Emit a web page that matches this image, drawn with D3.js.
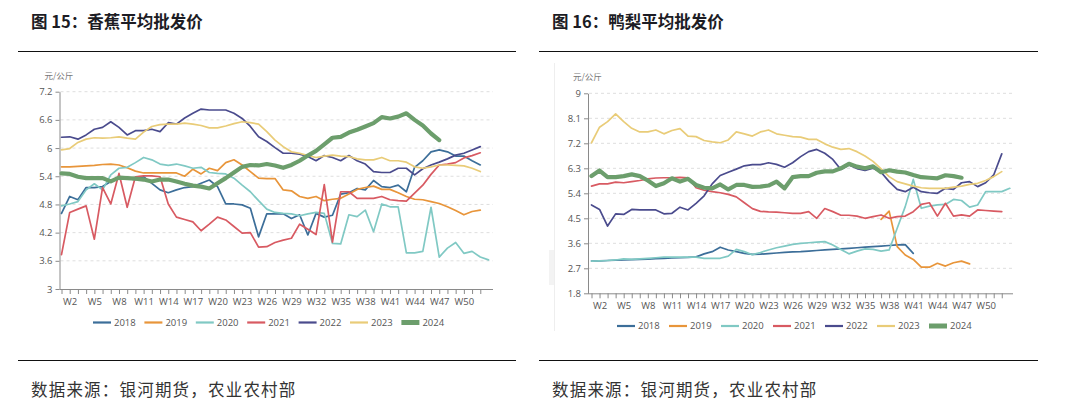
<!DOCTYPE html>
<html><head><meta charset="utf-8">
<script src="https://cdn.jsdelivr.net/npm/d3@7"></script>
<style>
body{margin:0;background:#fff;}
svg{display:block;}
</style></head>
<body>
<svg id="c" width="1074" height="406"></svg>
<script>
// ---------- data ----------
const weeks = d3.range(1, 54).map(w => "W" + w);
const xTickLabels = ["W2","W5","W8","W11","W14","W17","W20","W23","W26","W29","W32","W35","W38","W41","W44","W47","W50"];
const years = ["2018","2019","2020","2021","2022","2023","2024"];
const bananaYTicks = [3, 3.6, 4.2, 4.8, 5.4, 6, 6.6, 7.2];
const pearYTicks = [1.8, 2.7, 3.6, 4.5, 5.4, 6.3, 7.2, 8.1, 9];
const unitLabel = "元/公斤";

const banana2018 = [4.61,4.97,4.90,5.16,5.16,5.18,5.29,5.38,5.35,5.33,5.39,5.25,5.11,5.05,5.11,5.16,5.18,5.25,5.32,5.18,4.81,4.81,4.79,4.72,4.11,4.60,4.60,4.60,4.50,4.58,4.15,4.61,4.53,4.57,5.02,5.05,5.14,5.11,5.31,5.18,5.16,5.21,5.07,5.59,5.73,5.92,5.96,5.92,5.83,5.83,5.73,5.64];
const banana2019 = [5.60,5.60,5.61,5.62,5.63,5.65,5.66,5.64,5.58,5.51,5.47,5.47,5.47,5.47,5.47,5.40,5.55,5.45,5.57,5.52,5.69,5.75,5.64,5.50,5.36,5.35,5.35,5.11,5.09,4.97,4.93,4.97,4.88,4.91,4.93,5.02,5.12,5.16,5.19,5.12,5.12,5.05,4.97,4.91,4.90,4.86,4.82,4.75,4.67,4.58,4.65,4.68];
const banana2020 = [4.77,4.81,4.86,5.11,5.24,5.11,5.43,5.57,5.59,5.69,5.80,5.75,5.66,5.63,5.66,5.62,5.57,5.59,5.48,5.46,5.45,5.36,5.21,5.07,4.88,4.70,4.63,4.61,4.60,4.56,4.60,4.63,4.61,3.97,3.96,4.58,4.54,4.68,4.22,4.81,4.75,4.75,3.77,3.77,3.80,4.74,3.68,3.87,3.99,3.76,3.80,3.68,3.62];
const banana2021 = [3.73,4.63,4.70,4.77,4.06,5.16,4.81,5.46,4.74,5.39,5.41,5.41,5.39,4.81,4.53,4.48,4.43,4.24,4.38,4.53,4.47,4.33,4.19,4.20,3.89,3.90,3.99,4.04,4.08,4.38,4.27,4.16,5.22,4.00,5.07,5.07,4.93,4.93,4.93,4.97,4.90,4.88,4.87,5.04,5.21,5.44,5.64,5.66,5.69,5.79,5.84,5.90];
const banana2022 = [6.23,6.24,6.19,6.28,6.40,6.44,6.56,6.44,6.28,6.37,6.37,6.40,6.35,6.54,6.51,6.64,6.74,6.83,6.81,6.81,6.81,6.74,6.63,6.46,6.24,6.14,6.01,5.89,5.89,5.87,5.82,5.73,5.84,5.80,5.73,5.84,5.73,5.66,5.50,5.48,5.48,5.57,5.57,5.43,5.56,5.64,5.70,5.77,5.85,5.89,5.96,6.03];
const banana2023 = [5.96,5.99,6.12,6.19,6.22,6.21,6.22,6.24,6.21,6.19,6.34,6.46,6.50,6.51,6.51,6.53,6.51,6.48,6.43,6.43,6.47,6.52,6.56,6.54,6.51,6.35,6.17,6.03,5.92,5.89,5.84,5.80,5.83,5.85,5.83,5.82,5.77,5.75,5.75,5.80,5.73,5.73,5.70,5.60,5.57,5.60,5.64,5.64,5.63,5.62,5.57,5.50];
const banana2024 = [5.46,5.45,5.39,5.36,5.36,5.36,5.29,5.37,5.36,5.35,5.33,5.29,5.33,5.33,5.29,5.24,5.20,5.18,5.14,5.25,5.36,5.48,5.60,5.64,5.63,5.66,5.63,5.58,5.64,5.73,5.84,5.94,6.08,6.22,6.24,6.33,6.39,6.46,6.53,6.66,6.63,6.67,6.74,6.60,6.48,6.31,6.17];

const pear2018 = [2.96,2.97,2.98,2.99,3.00,3.01,3.02,3.03,3.05,3.06,3.07,3.08,3.09,3.11,3.22,3.30,3.46,3.36,3.30,3.24,3.20,3.21,3.23,3.25,3.27,3.29,3.30,3.32,3.34,3.36,3.38,3.40,3.42,3.44,3.46,3.48,3.50,3.52,3.54,3.55,3.24];
const pear2019 = [null,null,null,null,null,null,null,null,null,null,null,null,null,null,null,null,null,null,null,null,null,null,null,null,null,null,null,null,null,null,null,null,null,null,null,null,4.46,4.76,3.48,3.18,3.02,2.74,2.74,2.88,2.78,2.90,2.96,2.86];
const pear2020 = [2.96,2.97,2.98,3.00,3.04,3.02,3.04,3.06,3.08,3.10,3.10,3.10,3.10,3.10,3.06,3.06,3.06,3.14,3.38,3.30,3.19,3.27,3.36,3.44,3.50,3.56,3.60,3.62,3.64,3.66,3.54,3.38,3.22,3.32,3.40,3.38,3.32,3.36,4.14,4.92,5.90,4.86,4.94,4.98,5.00,5.18,5.14,4.90,4.98,5.46,5.46,5.46,5.58];
const pear2021 = [5.66,5.74,5.74,5.80,5.78,5.82,5.86,5.92,5.95,5.96,5.96,5.97,5.96,5.60,5.51,5.46,5.42,5.36,5.27,5.06,4.85,4.75,4.73,4.72,4.70,4.68,4.68,4.74,4.50,4.85,4.74,4.61,4.61,4.58,4.50,4.56,4.62,4.50,4.56,4.58,4.74,5.00,5.06,4.58,5.04,4.58,4.62,4.58,4.80,4.78,4.76,4.74];
const pear2022 = [4.98,4.82,4.22,4.66,4.64,4.82,4.80,4.80,4.80,4.66,4.68,4.90,4.80,5.04,5.31,5.74,6.04,6.16,6.27,6.39,6.43,6.43,6.50,6.44,6.34,6.50,6.72,6.90,6.98,6.84,6.62,6.26,6.42,6.29,6.22,6.30,6.16,5.82,5.54,5.46,5.62,5.46,5.42,5.40,5.58,5.54,5.78,5.82,5.64,5.78,6.06,6.82];
const pear2023 = [7.22,7.78,7.98,8.26,7.98,7.74,7.61,7.61,7.68,7.54,7.66,7.73,7.46,7.44,7.30,7.25,7.22,7.32,7.61,7.54,7.46,7.61,7.68,7.54,7.49,7.44,7.42,7.34,7.34,7.18,7.06,6.98,7.01,6.90,6.74,6.55,6.28,6.00,5.82,5.74,5.66,5.60,5.58,5.58,5.58,5.62,5.66,5.72,5.76,5.86,6.00,6.18];
const pear2024 = [6.02,6.22,5.98,5.98,6.02,6.08,6.02,5.86,5.66,5.76,5.94,5.82,5.92,5.70,5.60,5.58,5.72,5.54,5.70,5.70,5.63,5.64,5.68,5.82,5.58,5.98,6.02,6.02,6.14,6.19,6.19,6.30,6.46,6.36,6.30,6.37,6.16,6.23,6.18,6.15,6.06,5.98,5.96,5.94,6.05,6.02,5.96];

// ---------- styles ----------
const colors = {"2018":"#3c6e99","2019":"#e8953a","2020":"#80c9c4","2021":"#d85a62","2022":"#4a4b8d","2023":"#e9cc78","2024":"#6c9e6c"};
const FONT = "'Open Sans','Noto Sans','Noto Sans CJK SC',sans-serif";
const CJK = "'Noto Sans CJK SC','Noto Sans',sans-serif";

const svg = d3.select("#c");

function drawChart(o) {
  const g = svg.append("g");
  const x = d3.scalePoint().domain(weeks).range([o.w1, o.w53]);
  const y = d3.scaleLinear().domain([o.ticks[0], o.ticks[o.ticks.length-1]]).range([o.yb, o.yt]);

  // grid
  g.selectAll(".grid").data(o.ticks.slice(1)).join("line")
    .attr("x1", o.x0 + 1).attr("x2", o.x1)
    .attr("y1", d => y(d)).attr("y2", d => y(d))
    .attr("stroke", "#dedede").attr("stroke-width", 1).attr("stroke-dasharray", "3,3");

  // y axis
  const ya = g.append("g").attr("transform", `translate(${o.x0},0)`)
    .call(d3.axisLeft(y).tickValues(o.ticks).tickSize(4).tickSizeOuter(0).tickPadding(3).tickFormat(d3.format("~g")));
  ya.select(".domain").attr("stroke", "#8a8a8a");
  ya.selectAll(".tick line").attr("stroke", "#8a8a8a");
  ya.selectAll("text").attr("fill", "#555").style("font-family", FONT).style("font-size", "9.5px");

  // x axis
  const xa = g.append("g").attr("transform", `translate(0,${o.yb})`)
    .call(d3.axisBottom(x).tickValues(weeks.slice(0, 52)).tickSize(5).tickSizeOuter(0).tickPadding(4)
      .tickFormat(d => xTickLabels.includes(d) ? d : ""));
  xa.select(".domain").remove();
  xa.append("line").attr("x1", o.x0).attr("x2", o.x1).attr("y1", 0.5).attr("y2", 0.5).attr("stroke", "#8a8a8a");
  xa.selectAll(".tick line").attr("stroke", "#8a8a8a");
  xa.selectAll("text").attr("fill", "#555").style("font-family", FONT).style("font-size", "9.5px");

  // unit
  g.append("text").attr("x", o.x0 - 15).attr("y", o.yt - 13).text(unitLabel)
    .attr("fill", "#777").style("font-family", CJK).style("font-size", "8.5px");

  // series
  const line = d3.line().defined(d => d != null).x((d, i) => x(weeks[i])).y(d => y(d));
  years.forEach((yr, k) => {
    g.append("path").datum(o.series[k]).attr("d", line)
      .attr("fill", "none").attr("stroke", colors[yr])
      .attr("stroke-width", yr === "2024" ? 4.2 : 1.7)
      .attr("stroke-linejoin", "round").attr("stroke-linecap", "round");
  });

  // legend
  years.forEach((yr, k) => {
    const lx = o.legX + k * o.legStep;
    if (yr === "2024") {
      g.append("rect").attr("x", lx).attr("y", o.legY - 2.5).attr("width", 18).attr("height", 5).attr("fill", colors[yr]);
    } else {
      g.append("line").attr("x1", lx).attr("x2", lx + 18).attr("y1", o.legY).attr("y2", o.legY)
        .attr("stroke", colors[yr]).attr("stroke-width", 2.2);
    }
    g.append("text").attr("x", lx + 21).attr("y", o.legY + 3.3).text(yr)
      .attr("fill", "#555").style("font-family", FONT).style("font-size", "9.5px");
  });

  // title, separators, source
  svg.append("text").attr("x", o.titleX).attr("y", 28).text(o.title)
    .attr("fill", "#1c1c24").style("font-family", CJK).style("font-weight", "bold").style("font-size", "16.5px");
  svg.append("line").attr("x1", o.sepX1).attr("x2", o.sepX2).attr("y1", 51.5).attr("y2", 51.5).attr("stroke", "#111").attr("stroke-width", 1);
  svg.append("line").attr("x1", o.sepX1).attr("x2", o.sepX2).attr("y1", 360.5).attr("y2", 360.5).attr("stroke", "#111").attr("stroke-width", 1);
  svg.append("text").attr("x", o.titleX).attr("y", 396).text("数据来源：银河期货，农业农村部")
    .attr("fill", "#333").style("font-family", CJK).style("font-size", "16.5px").style("letter-spacing", "1.2px");
}

// faint panel edge on the right chart
svg.append("line").attr("x1", 554.5).attr("x2", 554.5).attr("y1", 63).attr("y2", 331).attr("stroke", "#eeeeee");
svg.append("rect").attr("x", 549).attr("y", 250).attr("width", 5).attr("height", 35).attr("fill", "#f3f3f3");

drawChart({
  title: "图 15：香蕉平均批发价", titleX: 31, sepX1: 18, sepX2: 516,
  x0: 59.5, x1: 493, w1: 61.5, w53: 488.5, yt: 91.7, yb: 289,
  ticks: bananaYTicks,
  series: [banana2018, banana2019, banana2020, banana2021, banana2022, banana2023, banana2024],
  legX: 93, legStep: 51.4, legY: 322.5
});
drawChart({
  title: "图 16：鸭梨平均批发价", titleX: 552, sepX1: 539, sepX2: 1038,
  x0: 588, x1: 1013, w1: 591.5, w53: 1009.8, yt: 93.3, yb: 293.3,
  ticks: pearYTicks,
  series: [pear2018, pear2019, pear2020, pear2021, pear2022, pear2023, pear2024],
  legX: 617, legStep: 52, legY: 326
});
</script>
</body></html>
